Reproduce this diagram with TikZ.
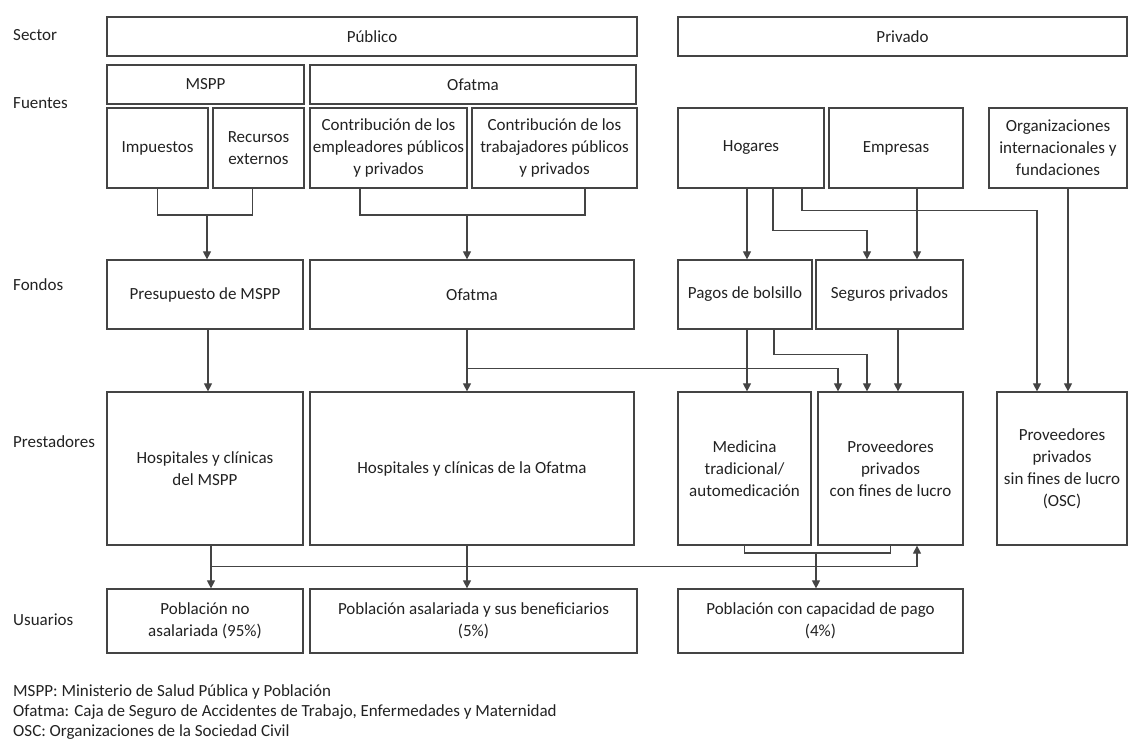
\documentclass[tikz,border=0pt]{standalone}
\usepackage{fontspec}
\setmainfont{Carlito}
\usetikzlibrary{arrows.meta}
\definecolor{ln}{HTML}{444444}
\definecolor{tx}{HTML}{222222}
\tikzset{
  box/.style={draw=ln, line width=1.2pt, rectangle, inner sep=1pt, align=center, text=tx, font=\fontsize{17}{22}\selectfont},
  lab/.style={anchor=west, inner sep=0pt, text=tx, font=\fontsize{17}{22}\selectfont},
  note/.style={anchor=west, inner sep=0pt, text=tx, font=\fontsize{17}{21}\selectfont},
  con/.style={draw=ln, line width=1.1pt},
  arr/.style={con, -{Triangle[length=8pt,width=8pt]}}
}
\newcommand{\bx}[6]{\node[box, minimum width={#4-#2}, minimum height={#5-#3}] (#1) at ({(#2+#4)/2},{(#3+#5)/2}) {#6};}
\begin{document}
\begin{tikzpicture}[x=1pt,y=-1pt]
\useasboundingbox (0,0) rectangle (1130,752);
% row labels
\node[lab] (lsec) at (13,35) {Sector};
\node[lab] (lfue) at (13,103) {Fuentes};
\node[lab] (lfon) at (13,285) {Fondos};
\node[lab] (lpre) at (13,442) {Prestadores};
\node[lab] (lusu) at (13,620) {Usuarios};
% sector
\bx{pub}{107}{17}{637}{56}{Público}
\bx{priv}{678}{17}{1127}{56}{Privado}
% fuentes
\bx{mspp}{107}{65}{304}{104}{MSPP}
\bx{ofa}{310}{65}{636}{104}{Ofatma}
\bx{imp}{107}{108}{208}{188}{Impuestos}
\bx{rec}{213}{108}{304}{188}{Recursos\\externos}
\bx{emp}{310}{108}{467}{188}{Contribución de los\\empleadores públicos\\y privados}
\bx{trab}{472}{108}{637}{188}{Contribución de los\\trabajadores públicos\\y privados}
\bx{hog}{678}{108}{824}{188}{Hogares}
\bx{empr}{829}{108}{963}{188}{Empresas}
\bx{org}{989}{108}{1127}{188}{Organizaciones\\internacionales y\\fundaciones}
% fondos
\bx{pres}{107}{260}{303}{329}{Presupuesto de MSPP}
\bx{ofo}{310}{260}{634}{329}{Ofatma}
\bx{pagos}{678}{260}{812}{329}{Pagos de bolsillo}
\bx{seg}{816}{260}{963}{329}{Seguros privados}
% prestadores
\bx{hmspp}{107}{392}{303}{545}{Hospitales y clínicas\\del MSPP}
\bx{hofa}{310}{392}{634}{545}{Hospitales y clínicas de la Ofatma}
\bx{med}{678}{392}{811}{545}{Medicina\\tradicional/\\automedicación}
\bx{prov}{818}{392}{963}{545}{Proveedores\\privados\\con fines de lucro}
\bx{osc}{997}{392}{1127}{545}{Proveedores\\privados\\sin fines de lucro\\(OSC)}
% usuarios
\bx{pna}{107}{589}{303}{653}{Población no\\asalariada (95\%)}
\bx{pa}{310}{589}{637}{653}{Población asalariada y sus beneficiarios\\(5\%)}
\bx{pcp}{678}{589}{963}{653}{Población con capacidad de pago\\(4\%)}
% notes
\node[note] (n1) at (13,692) {MSPP: Ministerio de Salud Pública y Población};
\node[note] (n2) at (13,712) {Ofatma: Caja de Seguro de Accidentes de Trabajo, Enfermedades y Maternidad};
\node[note] (n3) at (13,732) {OSC: Organizaciones de la Sociedad Civil};
% fuentes -> fondos
\coordinate (b1) at (207,215);
\draw[con] (imp.south) |- (b1) -| ([xshift=-6]rec.south);
\draw[arr] (b1) -- (b1 |- pres.north);
\coordinate (b2) at (467,215);
\draw[con] ([xshift=-28.5]emp.south) |- (b2) -| ([xshift=30.5]trab.south);
\draw[arr] (b2) -- (b2 |- ofo.north);
\draw[arr] ([xshift=-4]hog.south) -- ([xshift=2]pagos.north);
\draw[arr] ([xshift=22]hog.south) -- ++(0,42) -| ([xshift=-22.5]seg.north);
\draw[arr] ([xshift=51]hog.south) -- ++(0,22) -| ([xshift=-25]osc.north);
\draw[arr] ([xshift=21]empr.south) -- ([xshift=27.5]seg.north);
\draw[arr] ([xshift=10]org.south) -- ([xshift=6]osc.north);
% fondos -> prestadores
\draw[arr] ([xshift=3]pres.south) -- ([xshift=3]hmspp.north);
\draw[arr] ([xshift=-5]ofo.south) -- ([xshift=-5]hofa.north);
\draw[arr] ([xshift=-5]ofo.south) ++(0,39) -| ([xshift=-52.5]prov.north);
\draw[arr] ([xshift=2]pagos.south) -- ([xshift=2.5]med.north);
\draw[arr] ([xshift=29]pagos.south) -- ++(0,25) -| ([xshift=-23.5]prov.north);
\draw[arr] ([xshift=8.5]seg.south) -- ([xshift=7.5]prov.north);
% prestadores -> usuarios
\draw[arr] ([xshift=6]hmspp.south) -- ([xshift=6]pna.north);
\draw[arr] ([xshift=6]hmspp.south) ++(0,21) -| ([xshift=26.5]prov.south);
\draw[arr] ([xshift=-5]hofa.south) -- ([xshift=-6.5]pa.north);
\coordinate (b3) at (816,553);
\draw[con] (med.south) |- (b3) -| (prov.south);
\draw[arr] (b3) -- (b3 |- pcp.north);
\end{tikzpicture}
\end{document}
